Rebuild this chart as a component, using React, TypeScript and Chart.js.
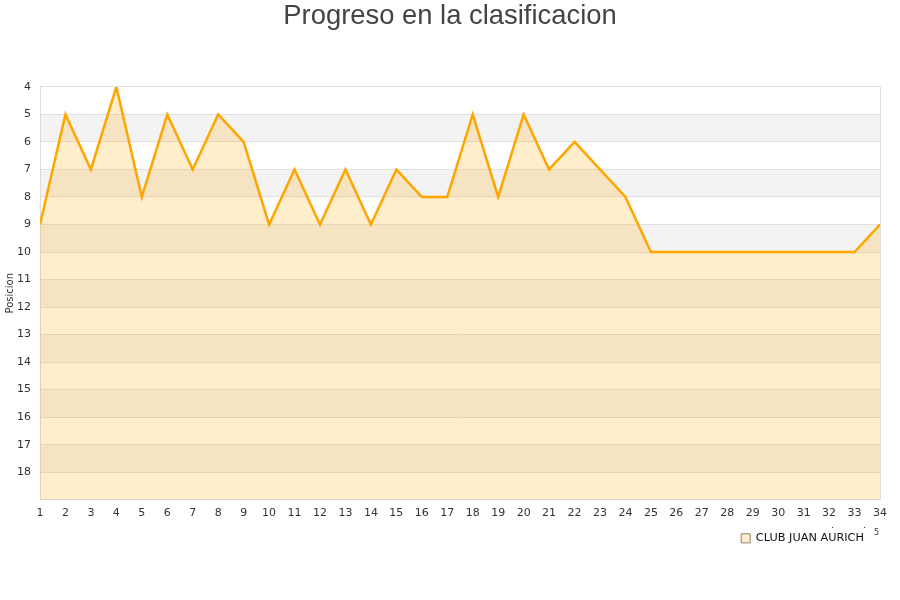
import React, { useEffect, useRef } from "react";
import { Chart, registerables } from "chart.js";

Chart.register(...registerables);

const jornadas: number[] = [1,2,3,4,5,6,7,8,9,10,11,12,13,14,15,16,17,18,19,20,21,22,23,24,25,26,27,28,29,30,31,32,33,34];
const posiciones: number[] = [9,5,7,4,8,5,7,5,6,9,7,9,7,9,7,8,8,5,8,5,7,6,7,8,10,10,10,10,10,10,10,10,10,9];
const teamName = "CLUB JUAN AURICH";
const chartTitle = "Progreso en la clasificacion";
const yTitle = "Posicion";

const bandsPlugin = {
  id: "bands",
  beforeDraw(chart: any) {
    const { ctx, chartArea, scales } = chart;
    const y = scales.y;
    ctx.save();
    for (let k = 4; k < 19; k++) {
      if (k % 2 === 1) {
        const t = y.getPixelForValue(k);
        const b = y.getPixelForValue(k + 1);
        ctx.fillStyle = "#f3f3f3";
        ctx.fillRect(chartArea.left, Math.min(t, b), chartArea.right - chartArea.left, Math.abs(b - t));
      }
    }
    ctx.restore();
  },
  afterDatasetsDraw(chart: any) {
    const { ctx, chartArea } = chart;
    ctx.save();
    ctx.strokeStyle = "#dcdcdc";
    ctx.lineWidth = 1;
    ctx.beginPath();
    ctx.moveTo(chartArea.right + 0.5, chartArea.top);
    ctx.lineTo(chartArea.right + 0.5, chartArea.bottom);
    ctx.stroke();
    ctx.fillStyle = "#333";
    ctx.font = "8px 'DejaVu Sans'";
    ctx.fillText("5", 874, 533);
    ctx.fillRect(832, 527, 1, 1);
    ctx.fillRect(864, 527, 1, 1);
    ctx.restore();
  },
};

export default function App() {
  const ref = useRef<HTMLCanvasElement | null>(null);
  useEffect(() => {
    document.body.style.margin = "0";
    if (!ref.current) return;
    const chart = new Chart(ref.current, {
      type: "line",
      data: {
        datasets: [
          {
            label: teamName,
            data: jornadas.map((j, i) => ({ x: j, y: posiciones[i] })),
            borderColor: "#ffa500",
            backgroundColor: "rgba(255,165,0,0.2)",
            borderWidth: 2.5,
            fill: { value: 19 },
            pointRadius: 0,
            tension: 0,
          },
        ],
      },
      options: {
        animation: false,
        responsive: false,
        maintainAspectRatio: false,
        layout: { padding: { left: 0, right: 0, top: 0, bottom: 46 } },
        plugins: {
          title: {
            display: true,
            text: chartTitle,
            color: "#444",
            font: { family: "'Liberation Sans', Arial, sans-serif", size: 27.4, weight: "normal" },
            padding: { top: 0, bottom: 54 },
          },
          legend: {
            position: "bottom",
            align: "end",
            fullSize: false,
            labels: {
              boxWidth: 9,
              boxHeight: 9,
              padding: 16,
              color: "#111",
              font: { family: "'DejaVu Sans'", size: 11.3 },
              generateLabels: () => [
                {
                  text: teamName,
                  fillStyle: "rgba(255,165,0,0.2)",
                  strokeStyle: "#8a8070",
                  lineWidth: 1,
                  hidden: false,
                  datasetIndex: 0,
                  fontColor: "#111",
                } as any,
              ],
            },
          },
          tooltip: { enabled: false },
        },
        scales: {
          x: {
            type: "linear",
            min: 1,
            max: 34,
            grid: { display: false, drawTicks: false },
            border: { display: true, color: "#dcdcdc" },
            ticks: {
              stepSize: 1,
              autoSkip: false,
              maxRotation: 0,
              padding: 7,
              color: "#333",
              font: { family: "'DejaVu Sans'", size: 11 },
            },
            afterFit: (s: any) => { s.height = 17; },
          },
          y: {
            type: "linear",
            reverse: true,
            min: 4,
            max: 19,
            grid: { color: "#e0e0e0", drawTicks: false },
            border: { display: true, color: "#dcdcdc" },
            ticks: {
              stepSize: 1,
              padding: 9,
              color: "#333",
              font: { family: "'DejaVu Sans'", size: 11 },
              callback: (v: any) => (v === 19 ? "" : String(v)),
            },
            title: {
              display: true,
              text: yTitle,
              color: "#333",
              font: { family: "'DejaVu Sans'", size: 10 },
              padding: { top: 4, bottom: 0 },
            },
            afterFit: (s: any) => { s.width = 40; },
          },
          yRight: {
            type: "linear",
            position: "right",
            min: 4,
            max: 19,
            reverse: true,
            grid: { display: false, drawTicks: false },
            border: { display: false },
            ticks: { display: false },
            afterFit: (s: any) => { s.width = 20; },
          },
        },
      },
      plugins: [bandsPlugin],
    });
    return () => chart.destroy();
  }, []);
  return (
    <div style={{ width: 900, height: 600 }}>
      <canvas ref={ref} width={900} height={600} style={{ width: 900, height: 600 }} />
    </div>
  );
}
